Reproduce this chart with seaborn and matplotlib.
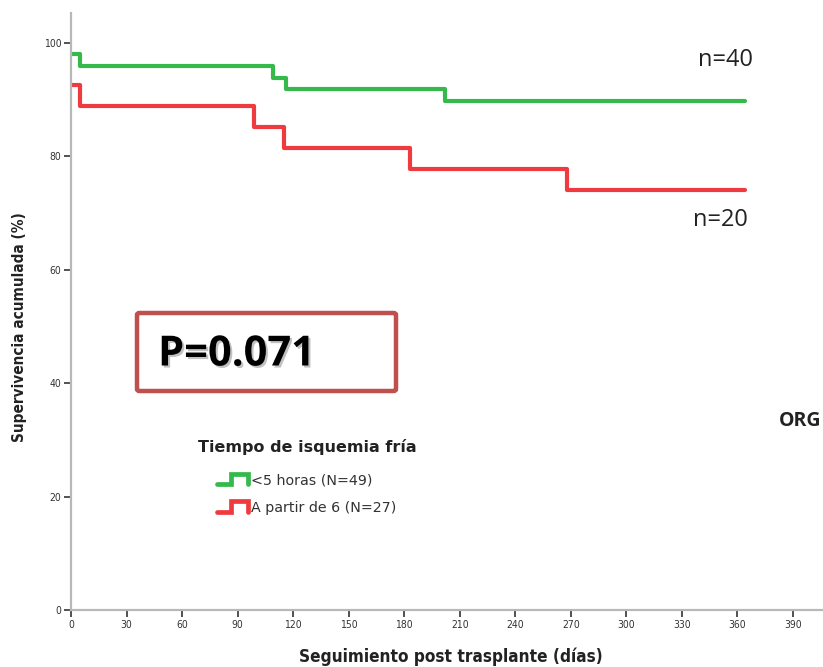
import matplotlib
matplotlib.use("Agg")
import matplotlib.pyplot as plt
import matplotlib.patheffects as pe
from matplotlib.lines import Line2D
from matplotlib.legend_handler import HandlerBase
from matplotlib.patches import FancyBboxPatch
import numpy as np
import pandas as pd
import seaborn as sns

# Kaplan-Meier step curves (days, cumulative survival %)
group_labels = ["<5 horas (N=49)", "A partir de 6 (N=27)"]
legend_title = "Tiempo de isquemia fría"
green_days = [0, 5, 109, 116, 202, 364]
green_surv = [98.0, 95.9, 93.9, 91.8, 89.8, 89.8]
red_days = [0, 5, 99, 115, 183, 268, 364]
red_surv = [92.6, 88.9, 85.2, 81.5, 77.8, 74.1, 74.1]
at_risk = ["n=40", "n=20"]
p_value = "P=0.071"
x_ticks = list(range(0, 391, 30))
y_ticks = [0, 20, 40, 60, 80, 100]

colors = {group_labels[0]: "#35b94a", group_labels[1]: "#ef3b40"}

df = pd.concat([
    pd.DataFrame({"dias": green_days, "surv": green_surv, "grupo": group_labels[0]}),
    pd.DataFrame({"dias": red_days, "surv": red_surv, "grupo": group_labels[1]}),
], ignore_index=True)

sns.set_style("white")
plt.rcParams["font.family"] = ["DejaVu Sans"]

W, H = 823, 667
fig = plt.figure(figsize=(W / 100, H / 100), dpi=100)
ax = fig.add_axes([71 / W, (H - 610) / H, (W - 71) / W, (610 - 13) / H])

sns.lineplot(data=df, x="dias", y="surv", hue="grupo", palette=colors,
             drawstyle="steps-post", linewidth=3.0, ax=ax, legend=False,
             estimator=None, sort=False)
ax.set_xlabel("")
ax.set_ylabel("")

ax.set_xlim(0, (W - 71) / 1.851)
ax.set_ylim(0, (610 - 13) / 5.67)
ax.set_xticks(x_ticks)
ax.set_yticks(y_ticks)
ax.tick_params(axis="both", which="both", direction="out", length=5, width=1.2,
               color="#333333", labelsize=7.5, labelcolor="#333333", pad=2,
               bottom=True, left=True)
for lbl in ax.get_xticklabels() + ax.get_yticklabels():
    lbl.set_fontstretch("condensed")
for side in ["top", "right"]:
    ax.spines[side].set_visible(False)
for side in ["left", "bottom"]:
    ax.spines[side].set_color("#b8b8b8")
    ax.spines[side].set_linewidth(1.6)

fig.text(20 / W, 1 - 327 / H, "Supervivencia acumulada (%)", rotation=90,
         ha="center", va="center", fontsize=11, fontweight="bold",
         fontstretch="condensed", color="#222222")
fig.text(451 / W, 1 - 657 / H, "Seguimiento post trasplante (días)",
         ha="center", va="center", fontsize=12.3, fontweight="bold",
         fontstretch="condensed", color="#222222")

# number at risk at the end of each curve
fig.text(725 / W, 1 - 60 / H, at_risk[0], ha="center", va="center",
         fontsize=17, family=["Open Sans", "DejaVu Sans"], color="#222222")
fig.text(720 / W, 1 - 220 / H, at_risk[1], ha="center", va="center",
         fontsize=17, family=["Open Sans", "DejaVu Sans"], color="#222222")

# p-value box
box = FancyBboxPatch((137 / W, 1 - 391 / H), (396 - 137) / W, (391 - 313) / H,
                     boxstyle="round,pad=0,rounding_size=0.003",
                     transform=fig.transFigure, facecolor="white",
                     edgecolor="#c0504d", linewidth=3.2, zorder=5)
fig.add_artist(box)
fig.text(158 / W, 1 - 355 / H, p_value, ha="left", va="center", fontsize=30,
         fontweight="bold", family=["Open Sans", "DejaVu Sans"], color="black",
         zorder=6,
         path_effects=[pe.withSimplePatchShadow(offset=(1.5, -1.5), shadow_rgbFace="#777777", alpha=0.45)])

fig.text(779 / W, 1 - 421 / H, "ORG", ha="left", va="center", fontsize=14,
         fontweight="bold", family=["Open Sans", "DejaVu Sans"], color="#222222")


class StepHandler(HandlerBase):
    def create_artists(self, legend, orig_handle, xdescent, ydescent, width,
                       height, fontsize, trans):
        xs = np.array([0, 0.45, 0.45, 1.0, 1.0]) * width - xdescent
        ys = np.array([0.0, 0.0, 1.0, 1.0, 0.0]) * height - ydescent
        line = Line2D(xs, ys, color=orig_handle.get_color(), linewidth=3.4,
                      solid_joinstyle="miter")
        line.set_transform(trans)
        return [line]


# legend: bold title above, step-shaped keys indented below it
fig.text(198 / W, 1 - 447 / H, legend_title, ha="left", va="center",
         fontsize=11.5, fontweight="bold", color="#222222")
handles = [Line2D([], [], color=colors[g]) for g in group_labels]
leg = ax.legend(handles, group_labels,
                handler_map={Line2D: StepHandler()}, frameon=False,
                loc="upper left", bbox_to_anchor=(217 / W, 1 - 473 / H),
                bbox_transform=fig.transFigure, fontsize=10.3,
                handlelength=2.2, handleheight=0.75, handletextpad=0.15,
                labelspacing=0.95, borderpad=0, borderaxespad=0)
for t in leg.get_texts():
    t.set_color("#333333")

fig.savefig("out.png", dpi=100)
